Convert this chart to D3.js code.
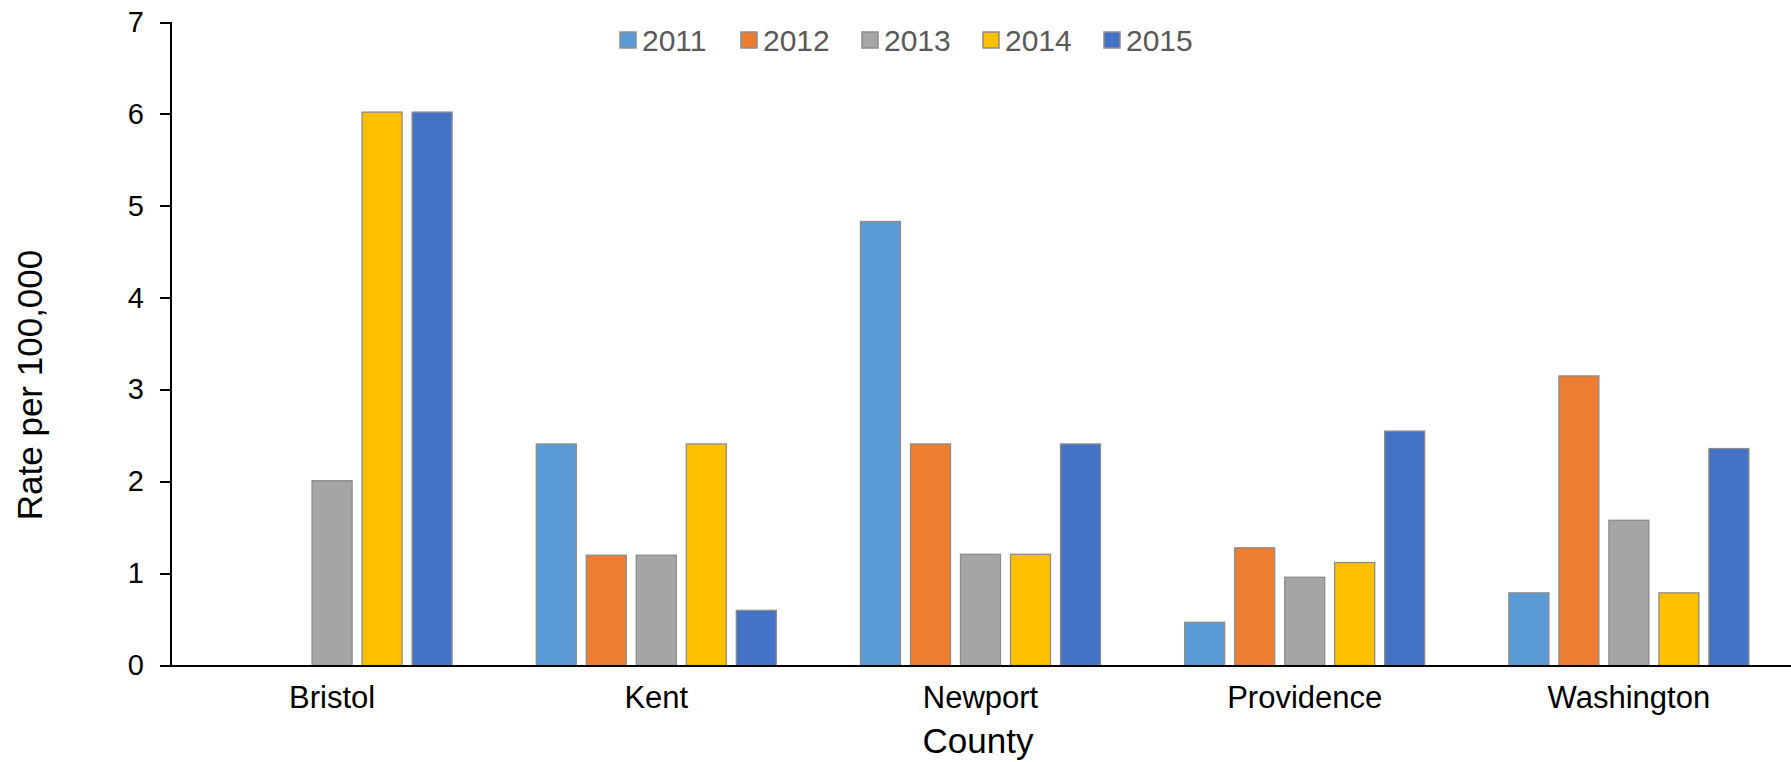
<!DOCTYPE html>
<meta charset="utf-8">
<html>
<head>
<title>Rate per 100,000 by County</title>
<style>
html, body {
  margin: 0;
  background: #fff;
}
body {
  font-family: "Liberation Sans", Arial, sans-serif;
}
.axis path,
.axis line {
  fill: none;
  stroke: #000;
  stroke-width: 2px;
  shape-rendering: crispEdges;
}
.bar {
  stroke: #8c8c8c;
  stroke-width: 1.3px;
}
</style>
</head>
<body>
<div id="my_dataviz"></div>
<script src="https://d3js.org/d3.v7.min.js"></script>
<script>
// data
var counties = ["Bristol", "Kent", "Newport", "Providence", "Washington"];
var years = ["2011", "2012", "2013", "2014", "2015"];
var v2011 = [0, 2.41, 4.83, 0.47, 0.79];
var v2012 = [0, 1.20, 2.41, 1.28, 3.15];
var v2013 = [2.01, 1.20, 1.21, 0.96, 1.58];
var v2014 = [6.02, 2.41, 1.21, 1.12, 0.79];
var v2015 = [6.02, 0.60, 2.41, 2.55, 2.36];
var yTicks = [0, 1, 2, 3, 4, 5, 6, 7];
var colors = ["#5b9bd5", "#ed7d31", "#a5a5a5", "#ffc000", "#4472c4"];

var series = [v2011, v2012, v2013, v2014, v2015];
var rows = counties.map(function(c, i) {
  return {county: c, values: years.map(function(y, j) { return {year: y, value: series[j][i]}; })};
});

var W = 1791, H = 762;
var margin = {top: 22, right: 0, bottom: 96, left: 170};

var svg = d3.select("#my_dataviz")
  .append("svg")
    .attr("width", W)
    .attr("height", H);

var x0 = d3.scaleBand()
  .domain(counties)
  .range([margin.left, W - margin.right]);

var x1 = d3.scaleBand()
  .domain(years)
  .range([-120, 120])
  .paddingInner(0.2);

var y = d3.scaleLinear()
  .domain([0, 7])
  .range([H - margin.bottom - 0.5, margin.top]);

var color = d3.scaleOrdinal().domain(years).range(colors);

// bars
var groups = svg.selectAll(".grp")
  .data(rows)
  .enter()
  .append("g")
    .attr("class", "grp")
    .attr("transform", function(d) { return "translate(" + (x0(d.county) + x0.bandwidth() / 2) + ",0)"; });

groups.selectAll("rect")
  .data(function(d) { return d.values.filter(function(v) { return v.value > 0; }); })
  .enter()
  .append("rect")
    .attr("class", "bar")
    .attr("x", function(d) { return x1(d.year); })
    .attr("width", x1.bandwidth())
    .attr("y", function(d) { return y(d.value); })
    .attr("height", function(d) { return y(0) - y(d.value); })
    .style("fill", function(d) { return color(d.year); });

// y axis
var yAxis = svg.append("g")
  .attr("class", "axis")
  .attr("transform", "translate(" + margin.left + ",0)")
  .call(d3.axisLeft(y).tickValues(yTicks).tickFormat(d3.format("d")).tickSize(10).tickPadding(16).tickSizeOuter(10));
yAxis.selectAll("text")
  .style("font-family", "'Liberation Sans', Arial, sans-serif")
  .style("font-size", "29px")
  .style("fill", "#000");

// x axis
var xAxis = svg.append("g")
  .attr("class", "axis")
  .attr("transform", "translate(0," + y(0) + ")")
  .call(d3.axisBottom(x0).tickSize(0).tickPadding(20).tickSizeOuter(0));
xAxis.selectAll("text")
  .style("font-family", "'Liberation Sans', Arial, sans-serif")
  .style("font-size", "31px")
  .style("fill", "#000");

// axis titles
svg.append("text")
  .attr("text-anchor", "middle")
  .attr("x", 978)
  .attr("y", 753)
  .style("font-size", "35px")
  .style("fill", "#000")
  .text("County");

svg.append("text")
  .attr("text-anchor", "middle")
  .attr("transform", "translate(42," + 385 + ") rotate(-90)")
  .style("font-size", "35px")
  .style("fill", "#000")
  .text("Rate per 100,000");

// legend
var legend = svg.append("g")
  .attr("transform", "translate(620,0)");
var item = legend.selectAll(".leg")
  .data(years)
  .enter()
  .append("g")
    .attr("class", "leg")
    .attr("transform", function(d, i) { return "translate(" + (i * 121) + ",0)"; });
item.append("rect")
  .attr("x", 0)
  .attr("y", 32)
  .attr("width", 16)
  .attr("height", 16)
  .style("fill", function(d) { return color(d); })
  .style("stroke", "#8c8c8c")
  .style("stroke-width", 1.5);
item.append("text")
  .attr("x", 22)
  .attr("y", 51)
  .style("font-size", "30px")
  .style("fill", "#595959")
  .text(function(d) { return d; });
</script>
</body>
</html>
